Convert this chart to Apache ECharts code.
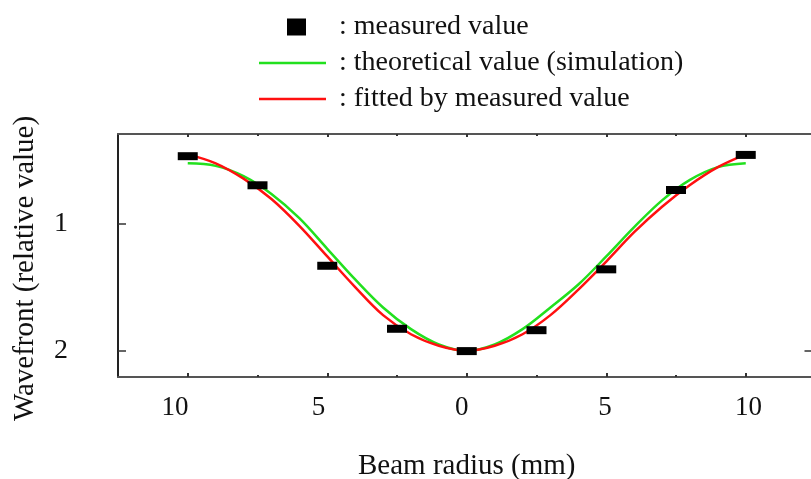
<!DOCTYPE html>
<html>
<head>
<meta charset="utf-8">
<style>
    html, body{
        margin: 0;
        padding: 0;
        background: #fff;
    }
    #main{
        width: 811px;
        height: 479px;
    }
</style>
</head>
<body>
<div id="main"></div>
<script src="https://cdn.jsdelivr.net/npm/echarts@6.0.0/dist/echarts.min.js"></script>
<script>
    // data
    var seriesNames = ['measured value', 'theoretical value (simulation)', 'fitted by measured value'];
    var measuredX = [-10, -7.5, -5, -2.5, 0, 2.5, 5, 7.5, 10];
    var measuredY = [0.474, 0.702, 1.333, 1.827, 2.002, 1.838, 1.361, 0.739, 0.464];
    var curveX = [-10, -9, -8, -7, -6, -5, -4, -3, -2, -1, 0, 1, 2, 3, 4, 5, 6, 7, 8, 9, 10];
    var theoryY = [0.53, 0.55, 0.63, 0.77, 0.96, 1.20, 1.44, 1.66, 1.83, 1.95, 2.0, 1.95, 1.83, 1.66, 1.48, 1.26, 1.03, 0.82, 0.66, 0.56, 0.53];
    var fittedY = [0.46, 0.53, 0.65, 0.81, 1.02, 1.26, 1.50, 1.72, 1.87, 1.96, 2.0, 1.96, 1.87, 1.72, 1.52, 1.30, 1.07, 0.87, 0.70, 0.56, 0.46];
    var xTicks = [-10, -5, 0, 5, 10];
    var xMinorTicks = [-7.5, -2.5, 2.5, 7.5];
    var yTicks = [1, 2];
    var yRightTicks = [2];

    function pairs(xs, ys) {
        return xs.map(function (x, i) { return [x, ys[i]]; });
    }

    var serif = "'Liberation Serif', 'Times New Roman', serif";
    var xMin = -12.5, xMax = 12.5;
    var green = '#22e01e', red = '#ff1010';

    function tickAxis(pos, values, len, showLine) {
        return {
            type: 'value', position: pos, min: xMin, max: xMax,
            axisLine: { show: showLine, onZero: false, lineStyle: { color: '#555', width: 2 } },
            axisTick: { show: true, inside: true, length: len, customValues: values, lineStyle: { color: '#333', width: 2 } },
            axisLabel: { show: false },
            splitLine: { show: false }
        };
    }

    var bottomAxis = tickAxis('bottom', xTicks, 4, true);
    bottomAxis.name = 'Beam radius (mm)';
    bottomAxis.nameLocation = 'middle';
    bottomAxis.nameGap = 75;
    bottomAxis.nameTextStyle = { fontFamily: serif, fontSize: 29, color: '#111' };

    // labels in the picture sit a little off their ticks, so they get their own axis
    var labelAxis = {
        type: 'value', position: 'bottom', min: -11.99, max: 12.34,
        axisLine: { show: false }, axisTick: { show: false }, splitLine: { show: false },
        axisLabel: {
            customValues: xTicks, margin: 17,
            fontFamily: serif, fontSize: 27, color: '#111',
            formatter: function (v) { return String(Math.abs(v)); }
        }
    };

    // legend icons: zero-length end points keep the drawn part in place inside the 67x17 box
    var squareIcon = 'path://M0,8.5L0,8.5ZM28,0h19v17h-19zM67,8.5L67,8.5Z';
    var lineIcon = 'path://M0,0L0,0ZM0,7.3h67v2.4h-67zM67,17L67,17Z';

    var option = {
        backgroundColor: '#fff',
        animation: false,
        grid: { left: 118, right: -4.5, top: 134, bottom: 102, outerBoundsMode: 'none' },
        legend: {
            orient: 'vertical', left: 259, top: 13, padding: 0,
            itemWidth: 67, itemHeight: 17, itemGap: 8,
            selectedMode: false,
            textStyle: { fontFamily: serif, fontSize: 28, lineHeight: 28, color: '#111', padding: [0, 0, 0, 8] },
            formatter: function (n) { return ': ' + n; },
            data: [
                { name: seriesNames[0], icon: squareIcon, itemStyle: { color: '#000' } },
                { name: seriesNames[1], icon: lineIcon, itemStyle: { color: green } },
                { name: seriesNames[2], icon: lineIcon, itemStyle: { color: red } }
            ]
        },
        xAxis: [
            bottomAxis,
            tickAxis('bottom', xMinorTicks, 2, false),
            tickAxis('top', xTicks, 3, true),
            tickAxis('top', xMinorTicks, 2, false),
            labelAxis
        ],
        yAxis: [
            {
                type: 'value', position: 'left', inverse: true, min: 0.3, max: 2.205,
                name: 'Wavefront (relative value)', nameLocation: 'middle', nameGap: 78,
                nameTextStyle: { fontFamily: serif, fontSize: 29, color: '#111', padding: [0, 26, 0, 0] },
                axisLine: { show: true, onZero: false, lineStyle: { color: '#222', width: 2 } },
                axisTick: { show: true, inside: true, length: 8, customValues: yTicks, lineStyle: { color: '#333', width: 1.5 } },
                axisLabel: { customValues: yTicks, margin: 50, fontFamily: serif, fontSize: 28, color: '#111', padding: [0, 0, 16, 0] },
                splitLine: { show: false }
            },
            {
                type: 'value', position: 'right', inverse: true, min: 0.3, max: 2.205,
                axisLine: { show: true, onZero: false, lineStyle: { color: '#222', width: 2 } },
                axisTick: { show: true, inside: true, length: 11, customValues: yRightTicks, lineStyle: { color: '#333', width: 1.5 } },
                axisLabel: { show: false },
                splitLine: { show: false }
            }
        ],
        series: [
            {
                name: seriesNames[1], type: 'line', smooth: 0.35,
                symbol: 'none', showSymbol: false,
                lineStyle: { color: green, width: 2.5 },
                itemStyle: { color: green },
                data: pairs(curveX, theoryY), z: 2
            },
            {
                name: seriesNames[2], type: 'line', smooth: 0.35,
                symbol: 'none', showSymbol: false,
                lineStyle: { color: red, width: 2.5 },
                itemStyle: { color: red },
                data: pairs(curveX, fittedY), z: 3
            },
            {
                name: seriesNames[0], type: 'scatter',
                symbol: 'rect', symbolSize: [20, 8],
                itemStyle: { color: '#000', opacity: 1 },
                data: pairs(measuredX, measuredY), z: 4
            }
        ]
    };

    var myChart = echarts.init(document.getElementById('main'), null, { renderer: 'canvas' });
    myChart.setOption(option);
</script>
</body>
</html>
